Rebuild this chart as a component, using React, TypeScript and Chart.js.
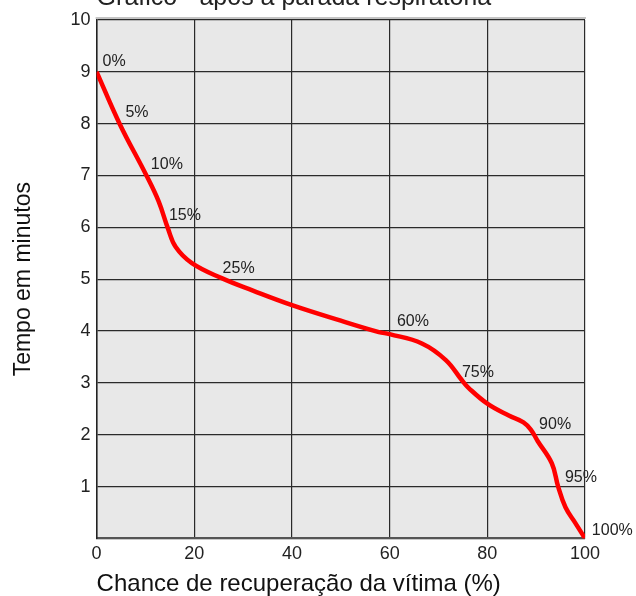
import React, { useEffect, useRef } from "react";
import { Chart, registerables } from "chart.js";

Chart.register(...registerables);

const chartTitle = "Gráfico - após a parada respiratória";
const xAxisTitle = "Chance de recuperação da vítima (%)";
const yAxisTitle = "Tempo em minutos";

const recoveryChance = [0, 4.7, 10.2, 12.7, 14.6, 16.2, 19.5, 25.6, 32, 40, 50, 57.8, 60, 66.6, 71.5, 74.8, 76.2, 80, 84.4, 87.4, 88.9, 90.3, 93.2, 94.5, 96, 98, 100];
const minutes = [9, 8, 7.0, 6.5, 5.98, 5.62, 5.31, 5.02, 4.78, 4.5, 4.2, 3.98, 3.94, 3.76, 3.44, 3.05, 2.9, 2.6, 2.37, 2.24, 2.1, 1.88, 1.45, 1.0, 0.6, 0.3, 0];

const pointLabels = ["0%", "5%", "10%", "15%", "25%", "60%", "75%", "90%", "95%", "100%"];
const pointLabelX = [1.2, 5.9, 11.1, 14.8, 25.8, 61.5, 74.8, 90.6, 95.9, 101.4];
const pointLabelY = [9.19, 8.22, 7.22, 6.23, 5.21, 4.19, 3.19, 2.2, 1.18, 0.15];

const FONT = "'Liberation Sans', Arial, sans-serif";

export default function App() {
  const ref = useRef<HTMLCanvasElement | null>(null);

  useEffect(() => {
    if (!ref.current) return;
    const bgPlugin = {
      id: "bg",
      beforeDraw(chart: any) {
        const { ctx, chartArea } = chart;
        ctx.save();
        ctx.fillStyle = "#e8e8e8";
        ctx.fillRect(chartArea.left, chartArea.top, chartArea.right - chartArea.left, chartArea.bottom - chartArea.top);
        ctx.strokeStyle = "#c4c4c4";
        ctx.lineWidth = 2;
        ctx.beginPath();
        ctx.moveTo(chartArea.left - 1, chartArea.top - 2);
        ctx.lineTo(chartArea.right + 1, chartArea.top - 2);
        ctx.stroke();
        ctx.restore();
      },
    };
    const labelPlugin = {
      id: "labels",
      afterDraw(chart: any) {
        const { ctx, scales, chartArea } = chart;
        ctx.save();
        ctx.fillStyle = "#222";
        ctx.font = `16px ${FONT}`;
        ctx.textAlign = "left";
        ctx.textBaseline = "middle";
        pointLabels.forEach((t, i) => {
          ctx.fillText(t, scales.x.getPixelForValue(pointLabelX[i]), scales.y.getPixelForValue(pointLabelY[i]));
        });
        ctx.font = `25px ${FONT}`;
        ctx.textBaseline = "alphabetic";
        ctx.fillText(chartTitle, chartArea.left, 5);
        ctx.restore();
      },
    };
    const chart = new Chart(ref.current, {
      type: "line",
      data: {
        datasets: [
          {
            data: recoveryChance.map((x, i) => ({ x, y: minutes[i] })),
            borderColor: "#ff0000",
            borderWidth: 4.5,
            pointRadius: 0,
            tension: 0.4,
            fill: false,
          },
        ],
      },
      options: {
        responsive: false,
        animation: false,
        layout: { padding: { top: 20, right: 51, left: 10, bottom: 0 } },
        plugins: { legend: { display: false }, tooltip: { enabled: false }, title: { display: false } },
        scales: {
          x: {
            type: "linear",
            min: 0,
            max: 100,
            ticks: { stepSize: 20, color: "#222", font: { family: FONT, size: 18 }, padding: 5 },
            grid: { color: "#2a2a2a", lineWidth: 1.2, drawTicks: false, tickLength: 0 },
            border: { color: "#555", width: 2 },
            title: { display: true, text: xAxisTitle, align: "start", color: "#111", font: { family: FONT, size: 24, lineHeight: 1.0 }, padding: { top: 2, bottom: 0 } },
          },
          y: {
            type: "linear",
            min: 0,
            max: 10,
            ticks: {
              stepSize: 1,
              color: "#222",
              font: { family: FONT, size: 18 },
              padding: 6,
              callback: (v: any) => (v === 0 ? "" : String(v)),
            },
            grid: { color: "#2a2a2a", lineWidth: 1.2, drawTicks: false, tickLength: 0 },
            border: { color: "#222", width: 1.5 },
            title: { display: true, text: yAxisTitle, color: "#111", font: { family: FONT, size: 23 }, padding: { top: 0, bottom: 27 } },
          },
        },
      },
      plugins: [bgPlugin, labelPlugin],
    } as any);
    return () => chart.destroy();
  }, []);

  return (
    <div style={{ position: "fixed", left: 0, top: 0, width: 636, height: 596, background: "#fff" }}>
      <canvas ref={ref} width={636} height={596} style={{ display: "block" }} />
    </div>
  );
}
